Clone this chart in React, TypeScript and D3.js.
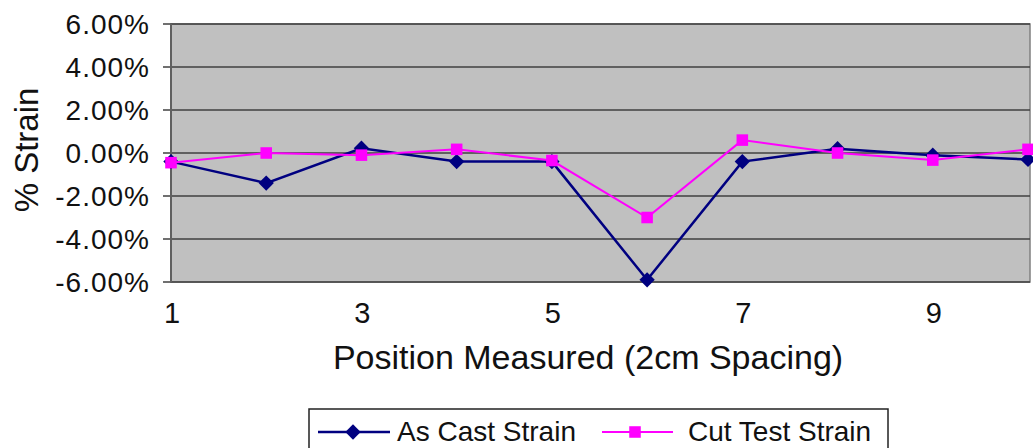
import React, { useEffect, useRef } from 'react'
import * as d3 from 'd3'

const positions = [1, 2, 3, 4, 5, 6, 7, 8, 9, 10]
const asCast = [-0.004, -0.014, 0.0022, -0.004, -0.004, -0.059, -0.004, 0.002, -0.001, -0.003]
const cutTest = [-0.0045, 0, -0.001, 0.0017, -0.0035, -0.03, 0.006, 0, -0.0033, 0.0017]
const yTicks = [0.06, 0.04, 0.02, 0, -0.02, -0.04, -0.06]
const xTicks = [1, 3, 5, 7, 9]

const W = 1033
const H = 448
const font = 'Liberation Sans, Arial, sans-serif'

export default function App() {
  const ref = useRef<SVGSVGElement | null>(null)

  useEffect(() => {
    const svg = d3.select(ref.current)
    svg.selectAll('*').remove()

    const left = 171
    const right = 1030
    const top = 24
    const bottom = 282

    const x = d3.scaleLinear().domain([1, 10]).range([left, 1028])
    const y = d3.scaleLinear().domain([-0.06, 0.06]).range([bottom, top])

    // plot background
    svg.append('rect')
      .attr('x', left).attr('y', top)
      .attr('width', right - left).attr('height', bottom - top)
      .attr('fill', '#c0c0c0')
      .attr('stroke', '#808080')
      .attr('stroke-width', 1.5)

    // gridlines + ticks
    svg.selectAll('line.grid')
      .data(yTicks)
      .enter()
      .append('line')
      .attr('x1', left - 8)
      .attr('x2', right)
      .attr('y1', d => y(d))
      .attr('y2', d => y(d))
      .attr('stroke', '#404040')
      .attr('stroke-width', 1.3)

    svg.append('line')
      .attr('x1', left).attr('x2', left)
      .attr('y1', top).attr('y2', bottom)
      .attr('stroke', '#606060')
      .attr('stroke-width', 2)

    svg.selectAll('text.ytick')
      .data(yTicks)
      .enter()
      .append('text')
      .text(d => d3.format('.2%')(d).replace('−', '-'))
      .attr('x', 150)
      .attr('y', d => y(d) + 10)
      .attr('text-anchor', 'end')
      .attr('font-family', font)
      .attr('font-size', '28px')
      .attr('letter-spacing', '1px')
      .attr('fill', '#111')

    svg.selectAll('text.xtick')
      .data(xTicks)
      .enter()
      .append('text')
      .text(d => d)
      .attr('x', d => x(d) + 1)
      .attr('y', 323)
      .attr('text-anchor', 'middle')
      .attr('font-family', font)
      .attr('font-size', '29px')
      .attr('fill', '#111')

    // axis titles
    svg.append('text')
      .text('Position Measured (2cm Spacing)')
      .attr('x', 588)
      .attr('y', 369)
      .attr('text-anchor', 'middle')
      .attr('font-family', font)
      .attr('font-size', '34px')
      .attr('fill', '#111')

    svg.append('text')
      .text('% Strain')
      .attr('transform', 'translate(38,150) rotate(-90)')
      .attr('text-anchor', 'middle')
      .attr('font-family', font)
      .attr('font-size', '33px')
      .attr('fill', '#111')

    const line = d3.line<number>()
      .x((_, i) => x(positions[i]))
      .y(d => y(d))

    const diamond = d3.symbol().type(d3.symbolDiamond2).size(150)
    const square = d3.symbol().type(d3.symbolSquare2).size(170)

    // As Cast series
    svg.append('path')
      .datum(asCast)
      .attr('d', line)
      .attr('fill', 'none')
      .attr('stroke', '#000080')
      .attr('stroke-width', 2.5)
    svg.selectAll('path.dia')
      .data(asCast)
      .enter()
      .append('path')
      .attr('d', diamond)
      .attr('transform', (d, i) => `translate(${x(positions[i])},${y(d)})`)
      .attr('fill', '#000080')

    // Cut Test series
    svg.append('path')
      .datum(cutTest)
      .attr('d', line)
      .attr('fill', 'none')
      .attr('stroke', '#ff00ff')
      .attr('stroke-width', 2)
    svg.selectAll('path.sq')
      .data(cutTest)
      .enter()
      .append('path')
      .attr('d', square)
      .attr('transform', (d, i) => `translate(${x(positions[i])},${y(d)})`)
      .attr('fill', '#ff00ff')

    // legend
    const lg = svg.append('g')
    lg.append('rect')
      .attr('x', 309).attr('y', 409)
      .attr('width', 579).attr('height', 60)
      .attr('fill', '#fff')
      .attr('stroke', '#222')
      .attr('stroke-width', 1.5)
    lg.append('line')
      .attr('x1', 318).attr('x2', 390).attr('y1', 432).attr('y2', 432)
      .attr('stroke', '#000080').attr('stroke-width', 2.5)
    lg.append('path')
      .attr('d', diamond)
      .attr('transform', 'translate(353,432)')
      .attr('fill', '#000080')
    lg.append('text')
      .text('As Cast Strain')
      .attr('x', 397).attr('y', 441)
      .attr('font-family', font).attr('font-size', '28px').attr('fill', '#111')
    lg.append('line')
      .attr('x1', 602).attr('x2', 673).attr('y1', 432).attr('y2', 432)
      .attr('stroke', '#ff00ff').attr('stroke-width', 2)
    lg.append('path')
      .attr('d', square)
      .attr('transform', 'translate(635,432)')
      .attr('fill', '#ff00ff')
    lg.append('text')
      .text('Cut Test Strain')
      .attr('x', 688).attr('y', 441)
      .attr('font-family', font).attr('font-size', '28px').attr('fill', '#111')
  }, [])

  return (
    <div style={{ position: 'fixed', left: 0, top: 0 }}>
      <svg ref={ref} width={W} height={H} style={{ display: 'block', background: '#fff' }} />
    </div>
  )
}
